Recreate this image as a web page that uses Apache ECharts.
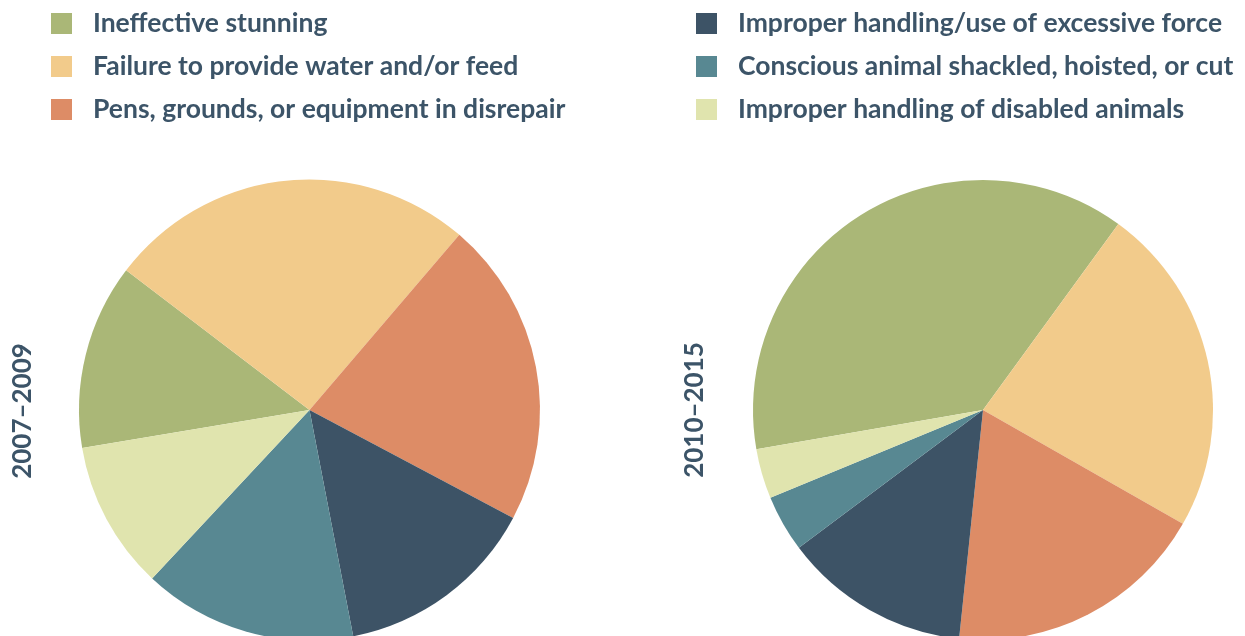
<!DOCTYPE html>
<html>
<head>
<meta charset="utf-8">
<title>Violations by type</title>
<script src="https://cdn.jsdelivr.net/npm/echarts@6/dist/echarts.min.js"></script>
<style>
  html, body { margin: 0; padding: 0; background: #fff; }
  #chart { width: 1245px; height: 636px; }
</style>
</head>
<body>
<div id="chart"></div>
<script>
// categories, in legend order (also clockwise order in each pie)
const categories = [
  'Ineffective stunning',
  'Failure to provide water and/or feed',
  'Pens, grounds, or equipment in disrepair',
  'Improper handling/use of excessive force',
  'Conscious animal shackled, hoisted, or cut',
  'Improper handling of disabled animals'
]
const periods = ['2007–2009', '2010–2015']
// share of citations, percent
const values2007 = [13.0, 25.9, 21.5, 14.2, 15.0, 10.4]
const values2015 = [37.7, 23.2, 18.4, 13.1, 4.0, 3.5]

const colors = ['#aab777', '#f2cb8b', '#dd8c66', '#3d5366', '#588892', '#e0e4ae']
const textColor = '#3c5468'
const font = 'Lato'

const chart = echarts.init(document.getElementById('chart'))

function pieData (values) {
  return categories.map((name, i) => ({ name: name, value: values[i] }))
}

function legendBlock (left, names) {
  return {
    orient: 'vertical',
    left: left,
    top: 10,
    padding: 0,
    itemWidth: 21,
    itemHeight: 21,
    itemGap: 16,
    icon: 'rect',
    selectedMode: false,
    data: names,
    textStyle: {
      color: textColor,
      fontFamily: font,
      fontWeight: 'bold',
      fontSize: 26.5,
      padding: [0, 0, 0, 16]
    }
  }
}

function pieSeries (name, values, center, radius, startAngle) {
  return {
    name: name,
    type: 'pie',
    center: center,
    radius: radius,
    startAngle: startAngle,
    clockwise: true,
    label: { show: false },
    labelLine: { show: false },
    emphasis: { disabled: true },
    itemStyle: { borderWidth: 0 },
    data: pieData(values)
  }
}

function sideLabel (text, x, y) {
  return {
    type: 'text',
    x: x,
    y: y,
    rotation: Math.PI / 2,
    style: {
      text: text,
      fill: textColor,
      font: 'bold 26px ' + font,
      align: 'center',
      verticalAlign: 'middle'
    }
  }
}

const option = {
  animation: false,
  color: colors,
  legend: [
    legendBlock(51, categories.slice(0, 3)),
    legendBlock(696, categories.slice(3))
  ],
  graphic: [
    sideLabel(periods[0], 23, 411),
    sideLabel(periods[1], 695, 410)
  ],
  series: [
    pieSeries(periods[0], values2007, [309.5, 410], 230.5, 189.5),
    pieSeries(periods[1], values2015, [983, 410], 230, 189.8)
  ]
}
chart.setOption(option)
</script>
</body>
</html>
